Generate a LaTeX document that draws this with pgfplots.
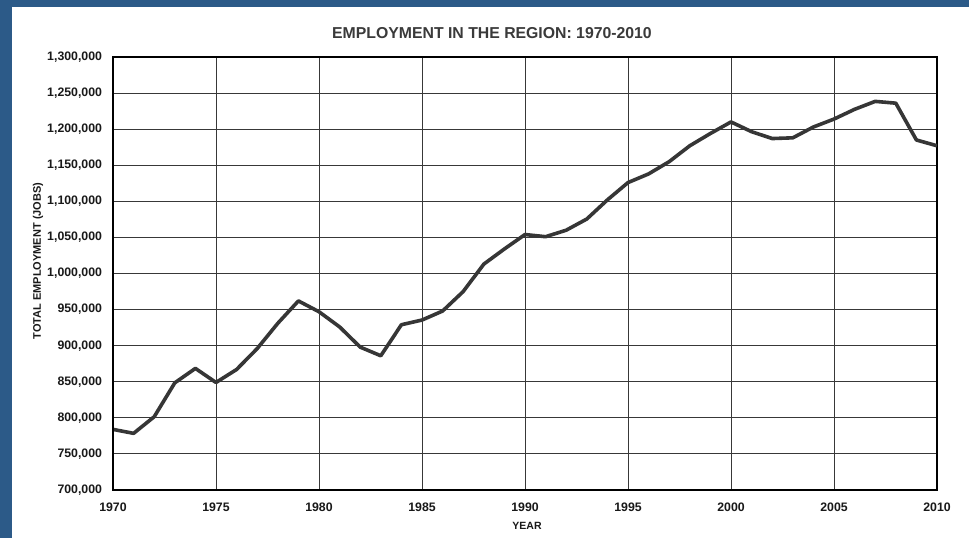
\documentclass[border=0pt]{standalone}
\usepackage{fontspec}
\setmainfont{Liberation Sans}
\usepackage{pgfplots}
\pgfplotsset{compat=1.18}
\definecolor{frameblue}{HTML}{2C5A88}
\definecolor{linegray}{HTML}{363636}
\definecolor{titlegray}{HTML}{3A3A3A}
\begin{document}
\begin{tikzpicture}[x=1pt,y=1pt]
\useasboundingbox (0,0) rectangle (969,538);
\fill[frameblue] (0,0) rectangle (969,538);
\fill[white] (12,0) rectangle (969,531);
\begin{axis}[
  at={(113pt,48pt)}, anchor=south west,
  scale only axis, width=824pt, height=433pt,
  xmin=1970, xmax=2010, ymin=700000, ymax=1300000,
  xtick={1970,1975,...,2010},
  ytick={700000,750000,...,1300000},
  scaled y ticks=false,
  major tick length=0pt,
  grid=major,
  major grid style={line width=0.9pt, black!78},
  axis line style={line width=1.4pt, black},
  /pgf/number format/assume math mode=true,
  xticklabel={\pgfmathprintnumber[fixed,1000 sep={}]{\tick}},
  yticklabel={\pgfmathprintnumber[fixed,1000 sep={,}]{\tick}},
  ticklabel style={font=\bfseries\fontsize{12.3}{14}\selectfont, text=black!90},
  xticklabel style={anchor=north, yshift=-9pt},
  yticklabel style={anchor=east, xshift=-7.5pt},
]
\addplot[linegray, line width=3.6pt, line join=round, mark=none] table {
1970 784000
1971 778500
1972 801500
1973 848500
1974 868500
1975 849000
1976 867000
1977 896000
1978 931000
1979 962000
1980 947000
1981 926000
1982 898000
1983 886000
1984 929000
1985 935500
1986 948000
1987 975000
1988 1013000
1989 1034000
1990 1054000
1991 1051000
1992 1060000
1993 1075500
1994 1102000
1995 1126000
1996 1138000
1997 1155000
1998 1177000
1999 1194000
2000 1210000
2001 1196500
2002 1187000
2003 1188000
2004 1203000
2005 1214000
2006 1227500
2007 1238500
2008 1236000
2009 1185000
2010 1177000
};
\draw[line width=2.8pt, black] (axis cs:1970,1300000) -- (axis cs:1970,700000) -- (axis cs:2010,700000);
\end{axis}
\node[text=titlegray, font=\bfseries\fontsize{15.8}{18}\selectfont] at (492,505) {EMPLOYMENT IN THE REGION: 1970-2010};
\node[rotate=90, text=black!90, font=\bfseries\fontsize{11}{13}\selectfont] at (38,277) {TOTAL EMPLOYMENT (JOBS)};
\node[text=black!90, font=\bfseries\fontsize{10.5}{13}\selectfont] at (527,12.5) {YEAR};
\end{tikzpicture}
\end{document}
